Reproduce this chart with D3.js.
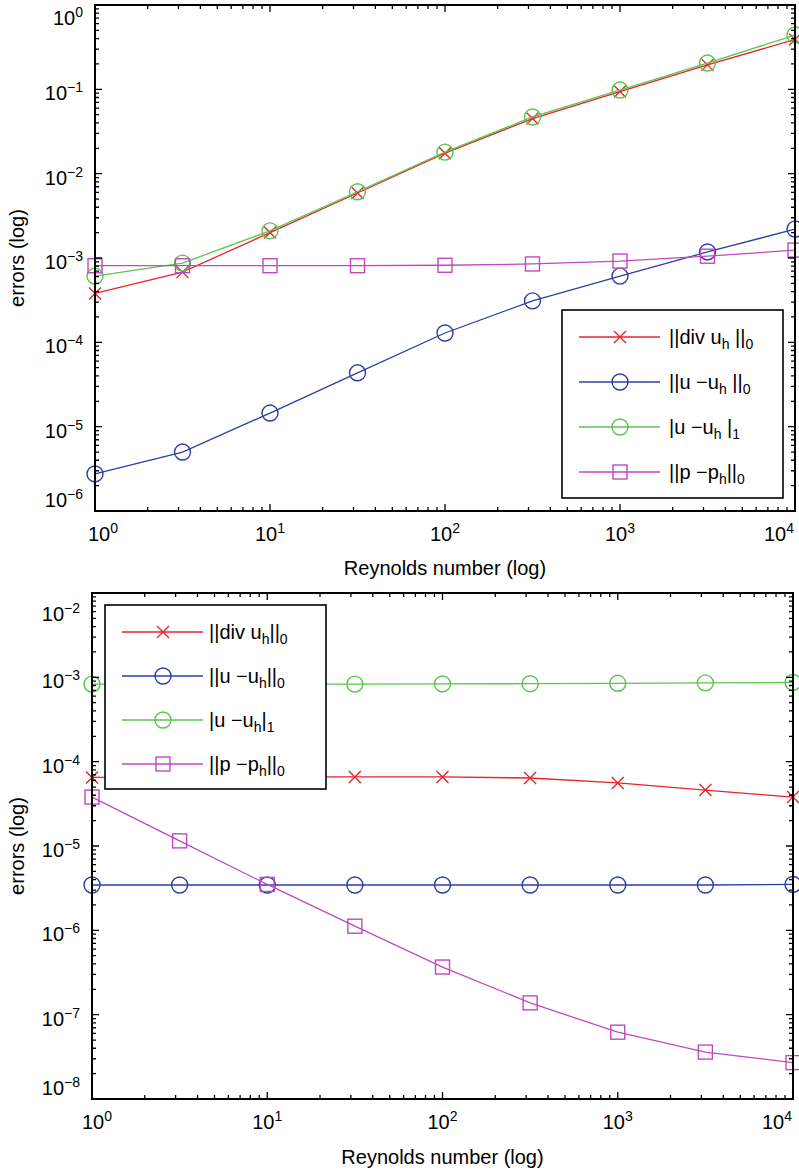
<!DOCTYPE html>
<html>
<head>
<meta charset="utf-8">
<script src="https://cdn.jsdelivr.net/npm/d3@7"></script>
<style>
  html, body { margin: 0; padding: 0; background: #fff; }
  svg { display: block; }
  text { font-family: "Liberation Sans", Arial, Helvetica, sans-serif; fill: #000; }
</style>
</head>
<body>
<svg id="chart" width="799" height="1173"></svg>
<script>
// ---------------- data ----------------
const reynolds = [1, 3.1623, 10, 31.623, 100, 316.23, 1000, 3162.3, 10000];

// top panel
const topDiv = [3.8e-4, 6.8e-4, 2.0e-3, 5.9e-3, 1.75e-2, 4.5e-2, 9.4e-2, 1.95e-1, 3.9e-1];
const topL2  = [2.75e-6, 5.0e-6, 1.45e-5, 4.35e-5, 1.29e-4, 3.1e-4, 6.1e-4, 1.18e-3, 2.2e-3];
const topH1  = [6.1e-4, 8.7e-4, 2.1e-3, 6.1e-3, 1.8e-2, 4.7e-2, 9.8e-2, 2.05e-1, 4.4e-1];
const topP   = [8.1e-4, 8.1e-4, 8.1e-4, 8.1e-4, 8.2e-4, 8.5e-4, 9.2e-4, 1.05e-3, 1.24e-3];

// bottom panel
const botDiv = [6.5e-5, 6.6e-5, 6.6e-5, 6.6e-5, 6.6e-5, 6.4e-5, 5.6e-5, 4.6e-5, 3.8e-5];
const botL2  = [3.45e-6, 3.45e-6, 3.45e-6, 3.45e-6, 3.45e-6, 3.45e-6, 3.45e-6, 3.45e-6, 3.5e-6];
const botH1  = [8.3e-4, 8.3e-4, 8.3e-4, 8.3e-4, 8.35e-4, 8.4e-4, 8.5e-4, 8.6e-4, 8.7e-4];
const botP   = [3.8e-5, 1.15e-5, 3.5e-6, 1.12e-6, 3.67e-7, 1.38e-7, 6.2e-8, 3.6e-8, 2.7e-8];

// tick exponents
const xTickExp = [0, 1, 2, 3, 4];
const topYTickExp = [0, -1, -2, -3, -4, -5, -6];
const botYTickExp = [-2, -3, -4, -5, -6, -7, -8];

// legend labels (_{..} = subscript)
const topLegend = ["||div u_{h} ||_{0}", "||u \u2212u_{h} ||_{0}", "|u \u2212u_{h} |_{1}", "||p \u2212p_{h}||_{0}"];
const botLegend = ["||div u_{h}||_{0}", "||u \u2212u_{h}||_{0}", "|u \u2212u_{h}|_{1}", "||p \u2212p_{h}||_{0}"];

const xLabel = "Reynolds number (log)";
const yLabel = "errors (log)";

// ---------------- styles ----------------
const colors = { div: "#e3262b", l2: "#2e3fa3", h1: "#5bc44f", p: "#c248c0" };
const markers = { div: "x", l2: "o", h1: "o", p: "s" };

const svg = d3.select("#chart");

function drawMarker(g, type, x, y, color) {
  if (type === "o") {
    g.append("circle").attr("cx", x).attr("cy", y).attr("r", 8)
      .attr("fill", "none").attr("stroke", color).attr("stroke-width", 1.4);
  } else if (type === "s") {
    g.append("rect").attr("x", x - 7).attr("y", y - 7).attr("width", 14).attr("height", 14)
      .attr("fill", "none").attr("stroke", color).attr("stroke-width", 1.4);
  } else {
    const s = 6;
    g.append("path").attr("d", `M${x - s},${y - s}L${x + s},${y + s}M${x - s},${y + s}L${x + s},${y - s}`)
      .attr("fill", "none").attr("stroke", color).attr("stroke-width", 1.4);
  }
}

function richText(textSel, str, baseSize, subSize) {
  const parts = str.split(/(_\{[^}]*\})/).filter(s => s.length);
  let shift = 0;
  parts.forEach(p => {
    if (p.startsWith("_{")) {
      textSel.append("tspan").attr("font-size", subSize).attr("dy", 5 - shift).text(p.slice(2, -1));
      shift = 5;
    } else {
      textSel.append("tspan").attr("font-size", baseSize).attr("dy", -shift).text(p);
      shift = 0;
    }
  });
}

function powLabel(g, x, y, exp, anchor) {
  const t = g.append("text").attr("x", x).attr("y", y).attr("text-anchor", anchor)
    .attr("font-size", 20);
  t.append("tspan").text("10");
  t.append("tspan").attr("font-size", 14).attr("dy", -8)
    .text(exp < 0 ? "\u2212" + Math.abs(exp) : String(exp));
}

function drawPanel(cfg) {
  const g = svg.append("g");
  const x = d3.scaleLog().domain([1, 10000]).range([cfg.left, cfg.right]);
  const y = d3.scaleLog().domain(cfg.yDomain).range([cfg.bottom, cfg.top]);

  const series = [
    { key: "div", vals: cfg.div },
    { key: "l2", vals: cfg.l2 },
    { key: "h1", vals: cfg.h1 },
    { key: "p", vals: cfg.p }
  ];
  const line = d3.line().x(d => x(d[0])).y(d => y(d[1]));
  series.forEach(s => {
    const pts = reynolds.map((r, i) => [r, s.vals[i]]);
    g.append("path").attr("d", line(pts)).attr("fill", "none")
      .attr("stroke", colors[s.key]).attr("stroke-width", 1.3);
    const mg = g.append("g");
    pts.forEach(p => drawMarker(mg, markers[s.key], x(p[0]), y(p[1]), colors[s.key]));
  });

  // axes box + ticks (inward, all four sides)
  const ax = g.append("g");
  const majorLen = 7, minorLen = 4;
  const xMajors = xTickExp.map(e => Math.pow(10, e));
  const xMinors = [];
  for (let e = 0; e < 4; e++) for (let m = 2; m <= 9; m++) xMinors.push(m * Math.pow(10, e));
  const yExp = cfg.yTicks;
  const yMajors = yExp.map(e => Math.pow(10, e));
  const yMinors = [];
  const lo = Math.min(...yExp), hi = Math.max(...yExp);
  for (let e = lo; e < hi; e++) for (let m = 2; m <= 9; m++) yMinors.push(m * Math.pow(10, e));

  const tickPath = [];
  xMajors.forEach(v => { const px = x(v); tickPath.push(`M${px},${cfg.bottom}v${-majorLen}M${px},${cfg.top}v${majorLen}`); });
  xMinors.forEach(v => { const px = x(v); tickPath.push(`M${px},${cfg.bottom}v${-minorLen}M${px},${cfg.top}v${minorLen}`); });
  yMajors.forEach(v => { const py = y(v); tickPath.push(`M${cfg.left},${py}h${majorLen}M${cfg.right},${py}h${-majorLen}`); });
  yMinors.forEach(v => { const py = y(v); tickPath.push(`M${cfg.left},${py}h${minorLen}M${cfg.right},${py}h${-minorLen}`); });
  ax.append("path").attr("d", tickPath.join("")).attr("stroke", "#000").attr("stroke-width", 1.3).attr("fill", "none");
  ax.append("rect").attr("x", cfg.left).attr("y", cfg.top)
    .attr("width", cfg.right - cfg.left).attr("height", cfg.bottom - cfg.top)
    .attr("fill", "none").attr("stroke", "#000").attr("stroke-width", 2);

  // x tick labels
  xTickExp.forEach((e, i) => {
    const px = x(Math.pow(10, e));
    let anchor = "middle", lx = px;
    if (i === 0) { anchor = "start"; lx = cfg.left - cfg.xLeftOver; }
    if (i === xTickExp.length - 1) { anchor = "end"; lx = cfg.right - 1; }
    powLabel(ax, lx, cfg.bottom + 30, e, anchor);
  });
  // y tick labels
  yExp.forEach(e => {
    const py = y(Math.pow(10, e));
    const by = Math.max(cfg.top + cfg.yTopMin, Math.min(cfg.bottom - 4, py + 11));
    powLabel(ax, cfg.left - 12, by, e, "end");
  });

  // axis titles
  g.append("text").attr("x", (cfg.left + cfg.right) / 2).attr("y", cfg.xTitleY)
    .attr("text-anchor", "middle").attr("font-size", 20).text(xLabel);
  g.append("text").attr("transform", `translate(24,${(cfg.top + cfg.bottom) / 2}) rotate(-90)`)
    .attr("text-anchor", "middle").attr("font-size", 20).text(yLabel);

  // legend
  const L = cfg.legend;
  const lg = g.append("g");
  lg.append("rect").attr("x", L.x).attr("y", L.y).attr("width", L.w).attr("height", L.h)
    .attr("fill", "#fff").attr("stroke", "#000").attr("stroke-width", 1.6);
  series.forEach((s, i) => {
    const ey = L.y + L.first + i * L.step;
    lg.append("line").attr("x1", L.x + 17).attr("x2", L.x + 98).attr("y1", ey).attr("y2", ey)
      .attr("stroke", colors[s.key]).attr("stroke-width", 1.3);
    drawMarker(lg, markers[s.key], L.x + 58, ey, colors[s.key]);
    const t = lg.append("text").attr("x", L.x + L.textOff).attr("y", ey + 7);
    richText(t, L.labels[i], 20, 14);
  });
}

drawPanel({
  left: 95, right: 795, top: 5, bottom: 511,
  yDomain: [1e-6, 1], yTicks: topYTickExp, yTopMin: 20, xLeftOver: 7,
  div: topDiv, l2: topL2, h1: topH1, p: topP,
  xTitleY: 575,
  legend: { x: 562, y: 310, w: 221, h: 188, first: 27, step: 45, textOff: 107, labels: topLegend }
});

drawPanel({
  left: 92, right: 793, top: 593, bottom: 1099,
  yDomain: [1e-8, 1e-2], yTicks: botYTickExp, yTopMin: 28, xLeftOver: 10,
  div: botDiv, l2: botL2, h1: botH1, p: botP,
  xTitleY: 1164,
  legend: { x: 105, y: 605, w: 221, h: 184, first: 27, step: 44, textOff: 104, labels: botLegend }
});
</script>
</body>
</html>
